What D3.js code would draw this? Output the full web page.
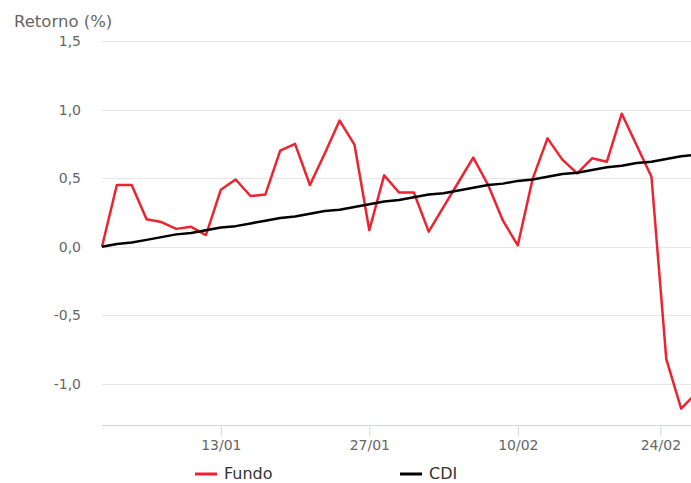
<!DOCTYPE html>
<html lang="pt">
    <head>
        <meta charset="UTF-8">
        <title>Retorno Fundo x CDI</title>
        <script src="https://d3js.org/d3.v7.min.js" charset="utf-8"></script>
        <style>
            body { margin: 0; background: #fff; }
            text { font-family: "DejaVu Sans", Verdana, sans-serif; }
        </style>
    </head>
<body>
<div id="my_dataviz"></div>
<script>
// business days (dd/mm), one per data point
const dates = ["31/12", "02/01", "03/01", "06/01", "07/01", "08/01", "09/01", "10/01",
    "13/01", "14/01", "15/01", "16/01", "17/01", "20/01", "21/01", "22/01", "23/01", "24/01",
    "27/01", "28/01", "29/01", "30/01", "31/01", "03/02", "04/02", "05/02", "06/02", "07/02",
    "10/02", "11/02", "12/02", "13/02", "14/02", "17/02", "18/02", "19/02", "20/02", "21/02",
    "26/02", "27/02", "28/02"];

const fundo = [0.00, 0.45, 0.45, 0.20, 0.18, 0.13, 0.145, 0.085,
    0.415, 0.49, 0.37, 0.38, 0.70, 0.75, 0.45, 0.68, 0.92, 0.745,
    0.12, 0.52, 0.395, 0.395, 0.11, 0.29, 0.47, 0.65, 0.45, 0.19,
    0.01, 0.495, 0.79, 0.635, 0.535, 0.645, 0.62, 0.97, 0.74, 0.51,
    -0.82, -1.18, -1.07];

const cdi = [0.00, 0.02, 0.03, 0.05, 0.07, 0.09, 0.10, 0.12,
    0.14, 0.15, 0.17, 0.19, 0.21, 0.22, 0.24, 0.26, 0.27, 0.29,
    0.31, 0.33, 0.34, 0.36, 0.38, 0.39, 0.41, 0.43, 0.45, 0.46,
    0.48, 0.49, 0.51, 0.53, 0.54, 0.56, 0.58, 0.59, 0.61, 0.62,
    0.64, 0.66, 0.67];

// x tick labels, 24/02 falls between two trading days (carnaval)
const tickDates = ["13/01", "27/01", "10/02", "24/02"];
const yTicks = [-1.0, -0.5, 0.0, 0.5, 1.0, 1.5];

const width = 691,
    height = 483;
const plotLeft = 102, plotRight = 696, plotTop = 41, plotBottom = 425;

const svg = d3.select("#my_dataviz")
  .append("svg")
    .attr("width", width)
    .attr("height", height);

// ordinal-like axis: position = index of trading day
const x = d3.scaleLinear()
  .domain([0, dates.length - 1])
  .range([plotLeft, plotRight]);

const y = d3.scaleLinear()
  .domain([-1.3, 1.5])
  .range([plotBottom, plotTop]);

// turn a dd/mm label into a (possibly fractional) index
function dayNum(s) {
    const p = s.split("/");
    const dt = new Date(p[1] == "12" ? 2019 : 2020, +p[1] - 1, +p[0]);
    return dt.getTime() / 864e5;
}
const dayNums = dates.map(dayNum);
function tickIndex(s) {
    const n = dayNum(s);
    const i = d3.bisectLeft(dayNums, n);
    if (dayNums[i] == n) return i;
    return i - 1 + (n - dayNums[i - 1]) / (dayNums[i] - dayNums[i - 1]);
}

// grid
svg.append("g")
  .selectAll("line")
  .data(yTicks)
  .join("line")
    .attr("x1", plotLeft)
    .attr("x2", width)
    .attr("y1", d => Math.round(y(d)) + 0.5)
    .attr("y2", d => Math.round(y(d)) + 0.5)
    .attr("stroke", "#e6e6e6");

// y axis labels
svg.append("g")
  .selectAll("text")
  .data(yTicks)
  .join("text")
    .attr("x", 81)
    .attr("y", d => y(d) + 5)
    .attr("text-anchor", "end")
    .style("font-size", "14px")
    .attr("fill", "#666")
    .text(d => d3.format(".1f")(d).replace(".", ",").replace("−", "-"));

svg.append("text")
    .attr("x", 14)
    .attr("y", 27)
    .style("font-size", "16.5px")
    .attr("fill", "#666")
    .text("Retorno (%)");

// x axis
const xAxis = d3.axisBottom(x)
    .tickValues(tickDates.map(tickIndex))
    .tickFormat((d, i) => tickDates[i])
    .tickSize(11)
    .tickPadding(4)
    .tickSizeOuter(0);

const gx = svg.append("g")
    .attr("transform", `translate(0,${plotBottom})`)
    .call(xAxis);
gx.select(".domain").attr("stroke", "#ccd6eb").attr("d", `M${plotLeft},0.5H${width}`);
gx.selectAll(".tick line").attr("stroke", "#ccd6eb");
gx.selectAll(".tick text")
    .attr("fill", "#666")
    .style("font-size", "14px")
    .style("font-family", "DejaVu Sans, sans-serif");

// lines
svg.append("clipPath").attr("id", "plot")
  .append("rect")
    .attr("x", plotLeft - 2).attr("y", 0)
    .attr("width", plotRight - plotLeft + 4).attr("height", plotBottom);

const line = d3.line()
    .x((d, i) => x(i))
    .y(d => y(d));

svg.append("path")
    .datum(fundo)
    .attr("clip-path", "url(#plot)")
    .attr("fill", "none")
    .attr("stroke", "#ec2330")
    .attr("stroke-width", 2.5)
    .attr("stroke-linejoin", "round")
    .attr("d", line);

svg.append("path")
    .datum(cdi)
    .attr("clip-path", "url(#plot)")
    .attr("fill", "none")
    .attr("stroke", "#000")
    .attr("stroke-width", 2.5)
    .attr("stroke-linejoin", "round")
    .attr("d", line);

// legend (kept just inside the bottom edge)
const legend = [["Fundo", "#ec2330", 195], ["CDI", "#000", 400]];
const lg = svg.append("g")
  .selectAll("g")
  .data(legend)
  .join("g")
    .attr("transform", d => `translate(${d[2]},474)`);
lg.append("line")
    .attr("x1", 0).attr("x2", 22)
    .attr("stroke", d => d[1])
    .attr("stroke-width", 3);
lg.append("text")
    .attr("x", 29)
    .attr("y", 5)
    .style("font-size", "16px")
    .attr("fill", "#333")
    .text(d => d[0]);
</script>
</body>
